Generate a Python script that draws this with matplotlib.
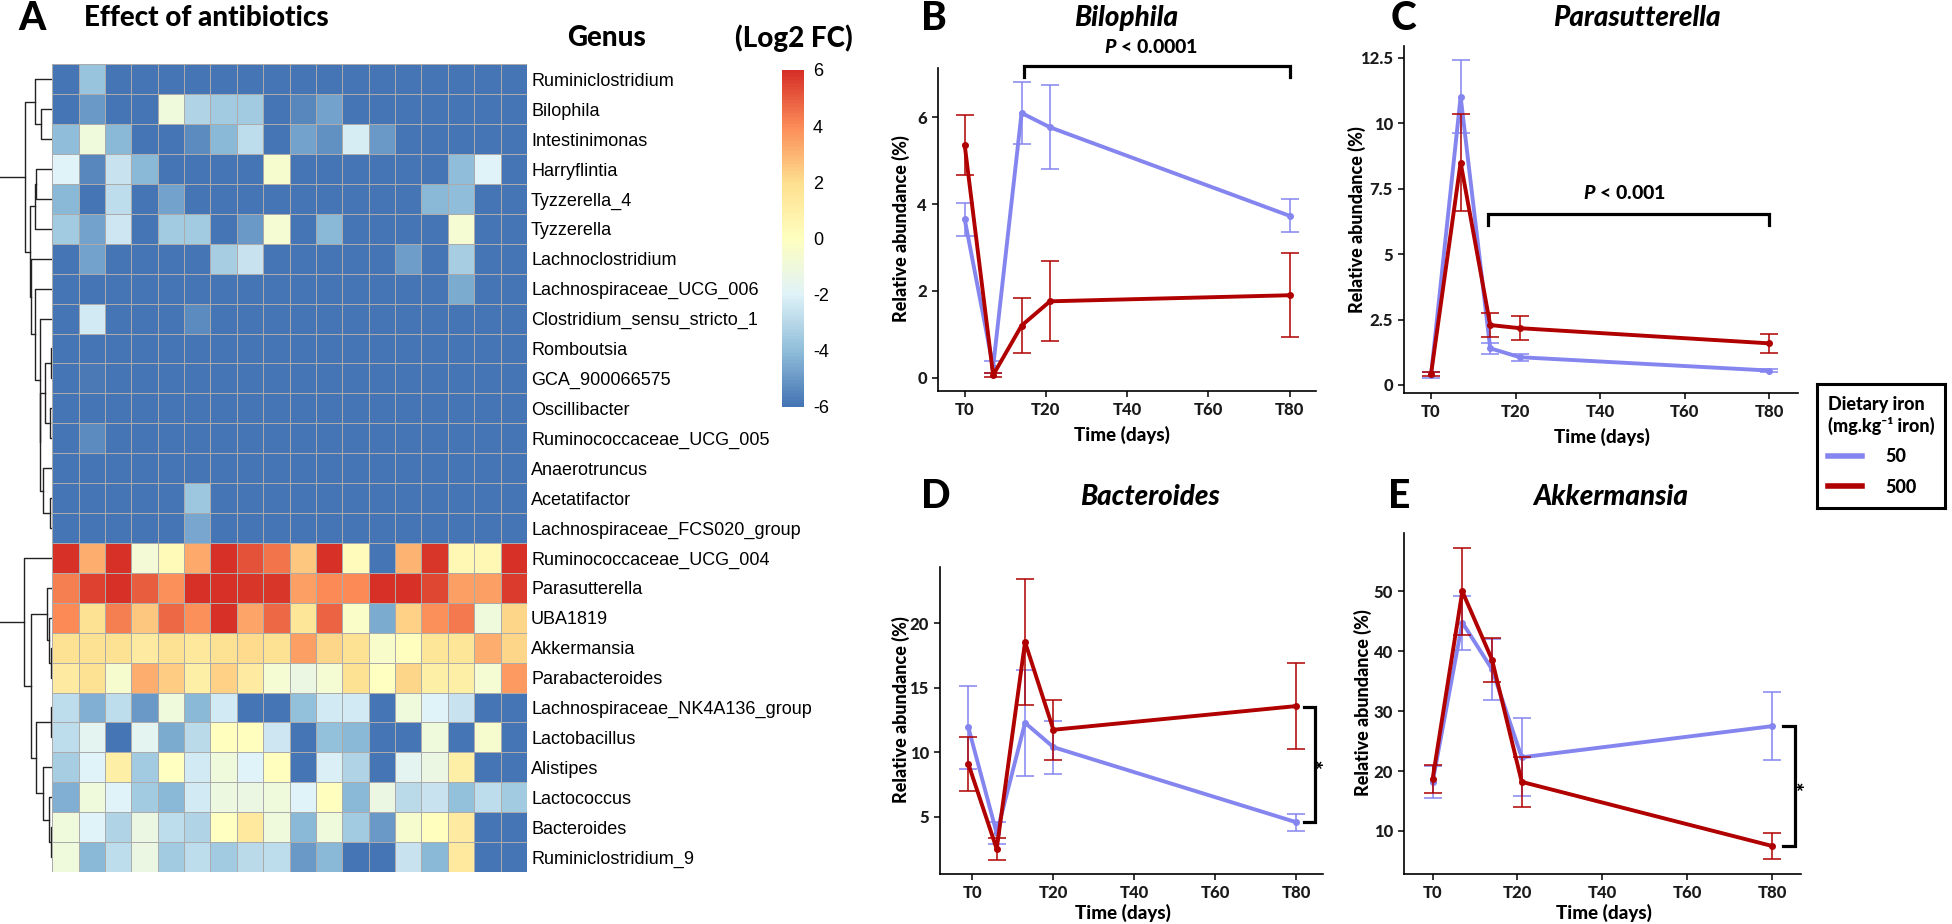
import matplotlib
matplotlib.use("Agg")
import matplotlib.pyplot as plt
import numpy as np
from matplotlib.colors import LinearSegmentedColormap
from matplotlib.lines import Line2D

plt.rcParams["font.family"] = ["Lato", "DejaVu Sans"]
plt.rcParams["font.weight"] = "bold"
plt.rcParams["mathtext.fontset"] = "custom"
plt.rcParams["mathtext.it"] = "Lato:italic:black"
plt.rcParams["mathtext.rm"] = "Lato:black"

# ── heatmap data (log2 fold change) ──────────────────────────────────────
GENERA = [
    "Ruminiclostridium", "Bilophila", "Intestinimonas", "Harryflintia",
    "Tyzzerella_4", "Tyzzerella", "Lachnoclostridium", "Lachnospiraceae_UCG_006",
    "Clostridium_sensu_stricto_1", "Romboutsia", "GCA_900066575", "Oscillibacter",
    "Ruminococcaceae_UCG_005", "Anaerotruncus", "Acetatifactor",
    "Lachnospiraceae_FCS020_group", "Ruminococcaceae_UCG_004", "Parasutterella",
    "UBA1819", "Akkermansia", "Parabacteroides", "Lachnospiraceae_NK4A136_group",
    "Lactobacillus", "Alistipes", "Lactococcus", "Bacteroides", "Ruminiclostridium_9",
]
HEAT = [
    [-6, -3.8, -6, -6, -6, -6, -6, -6, -6, -6, -6, -6, -6, -6, -6, -6, -6, -6],
    [-6, -5, -6, -6, -1, -3.2, -3.5, -3.6, -6, -5.5, -4.8, -6, -6, -6, -6, -6, -6, -6],
    [-4, -1, -4.2, -6, -6, -5.3, -4.2, -2.8, -6, -4.8, -5.2, -2.2, -5, -6, -6, -6, -6, -6],
    [-2, -5.5, -2.6, -4.1, -6, -6, -6, -6, -0.5, -6, -6, -6, -6, -6, -6, -4, -2, -6],
    [-4.2, -6, -2.8, -6, -4.8, -6, -6, -6, -6, -6, -6, -6, -6, -6, -4.2, -4, -6, -6],
    [-3.5, -4.8, -2.5, -6, -3.5, -3.5, -6, -5, -0.7, -6, -4.1, -6, -6, -6, -6, -0.7, -6, -6],
    [-6, -4.8, -6, -6, -6, -6, -3.4, -2.6, -6, -6, -6, -6, -6, -4.9, -6, -3.4, -6, -6],
    [-6, -6, -6, -6, -6, -6, -6, -6, -6, -6, -6, -6, -6, -6, -6, -4.5, -6, -6],
    [-6, -2.4, -6, -6, -6, -5.3, -6, -6, -6, -6, -6, -6, -6, -6, -6, -6, -6, -6],
    [-6, -6, -6, -6, -6, -6, -6, -6, -6, -6, -6, -6, -6, -6, -6, -6, -6, -6],
    [-6, -5.8, -6, -6, -6, -6, -6, -6, -6, -6, -6, -6, -6, -6, -6, -6, -6, -6],
    [-6, -6, -6, -6, -6, -6, -6, -6, -6, -6, -6, -6, -6, -6, -6, -6, -6, -6],
    [-6, -5.3, -6, -6, -6, -6, -6, -6, -6, -6, -6, -6, -6, -6, -6, -6, -6, -6],
    [-6, -6, -6, -6, -6, -6, -6, -6, -6, -6, -6, -6, -6, -6, -6, -6, -6, -6],
    [-6, -6, -6, -6, -6, -3.7, -6, -6, -6, -6, -6, -6, -6, -6, -6, -6, -6, -6],
    [-6, -6, -6, -6, -6, -4.6, -6, -6, -6, -6, -6, -6, -6, -6, -6, -6, -6, -6],
    [6, 3.2, 6, -0.8, 0.3, 3.3, 6, 5.2, 4.5, 2.6, 6, 0.2, -6, 3.1, 5.8, 0.4, 0.4, 6],
    [4.2, 5.6, 6, 5, 3.9, 6, 6, 5.8, 5.8, 3.5, 4, 4, 6, 6, 5.4, 3.5, 3.5, 5.7],
    [4, 1.8, 4.3, 2.6, 4.7, 3.9, 6, 3.4, 4.7, 1.6, 4.8, -0.3, -4.5, 2.3, 3.9, 4.4, -1, 2.2],
    [1.8, 1.8, 1.8, 1.2, 1.8, 1.5, 1.8, 2.1, 1.8, 3.5, 2.2, 1.8, -0.4, 0, 1.6, 1.6, 3.2, 2.2],
    [1.2, 1.8, -0.5, 3.2, 2.5, 1, 2.3, 1.2, -0.7, -1.3, -0.7, 1.8, -0.1, 2.2, 1, 1, -0.7, 3.7],
    [-2.8, -4.4, -2.8, -5, -1, -4.1, -2.3, -6, -6, -3.9, -2.3, -2.3, -6, -1, -2, -2.6, -6, -6],
    [-2.8, -1.8, -6, -1.8, -4.5, -3, 0, 0, -2.5, -6, -3.9, -4.1, -6, -6, -1, -6, -0.5, -6],
    [-3.4, -2, 1, -3.5, -0.1, -2.3, -1, -2, 0, -6, -2.1, -3.2, -6, -1.7, -1.3, 1, -6, -6],
    [-4.4, -1, -2, -3.6, -4.1, -2.3, -1.2, -1.3, -1, -2, 0, -4.1, -1.3, -3, -2.6, -3.9, -2.8, -3.5],
    [-1, -2, -3.2, -1.3, -2.8, -3.2, -0.1, 1.4, -1, -4.1, -1, -3.5, -5, -0.5, 0, 1.2, -6, -6],
    [-1, -4.1, -2.8, -1.3, -3.5, -2.8, -3.5, -3, -2.8, -5, -4.1, -6, -6, -2.6, -4.1, 1.4, -6, -6],
]
# row clustering: (left, right, height), leaves are row indices
TREE_TOP = ((0, (1, 2, 11), 17),
            (((3, 4, 16.3), 5, 17.3),
             (6, (7, (8, (((9, 10, 1.7), (11, 12, 2.3), 7.3),
                          (13, (14, 15, 2.3), 9), 11.7), 12.3), 17), 20.7), 22.3),
            27.3)
TREE_BOTTOM = (16, ((17, (18, (19, 20, 1), 3), 5.7),
                    ((21, 22, 1.7), (23, (24, (25, 26, 1), 3), 9), 15.7), 20.7), 28.3)
TREE = (TREE_TOP, TREE_BOTTOM, 70)
CBAR_TICKS = [6, 4, 2, 0, -2, -4, -6]

# ── time course data (mean, error) ───────────────────────────────────────
DAYS = [0, 7, 14, 21, 80]
DAYS_D = [-1, 6, 13, 20, 80]
XTICKS = [0, 20, 40, 60, 80]
XTICKLABELS = ["T0", "T20", "T40", "T60", "T80"]

BILO_50, BILO_50_ERR = [3.65, 0.25, 6.1, 5.77, 3.73], [0.38, 0.14, 0.72, 0.97, 0.38]
BILO_500, BILO_500_ERR = [5.36, 0.06, 1.2, 1.76, 1.9], [0.70, 0.04, 0.63, 0.92, 0.97]
PARA_50, PARA_50_ERR = [0.38, 11.02, 1.4, 1.06, 0.55], [0.1, 1.4, 0.2, 0.14, 0.06]
PARA_500, PARA_500_ERR = [0.42, 8.5, 2.29, 2.17, 1.59], [0.08, 1.84, 0.45, 0.46, 0.36]
BACT_50, BACT_50_ERR = [11.92, 3.7, 12.28, 10.39, 4.56], [3.22, 0.85, 4.1, 2.05, 0.68]
BACT_500, BACT_500_ERR = [9.09, 2.49, 18.55, 11.74, 13.58], [2.1, 0.87, 4.9, 2.33, 3.33]
AKK_50, AKK_50_ERR = [18.2, 44.8, 37.0, 22.3, 27.5], [2.7, 4.5, 5.1, 6.5, 5.7]
AKK_500, AKK_500_ERR = [18.7, 50.0, 38.6, 18.2, 7.5], [2.4, 7.3, 3.7, 4.2, 2.1]

BLUE = "#8585F0"
RED = "#B00000"
HEAVY = "black"
W, H = 1952, 924


def rect(l, t, r, b):
    return [l / W, 1 - b / H, (r - l) / W, (b - t) / H]


def ftext(x, y, s, **kw):
    fig.text(x / W, 1 - y / H, s, **kw)


fig = plt.figure(figsize=(W / 100, H / 100), dpi=100)

# ══════════════════════════════════════════════════════════════════════════
# A: heatmap
# ══════════════════════════════════════════════════════════════════════════
cmap = LinearSegmentedColormap.from_list(
    "rdylbu", ["#4575B4", "#91BFDB", "#E0F3F8", "#FFFFBF", "#FEE090", "#FC8D59", "#D73027"], N=100)

hax = fig.add_axes(rect(52.3, 64.3, 526.9, 872))
hax.pcolormesh(np.array(HEAT), cmap=cmap, vmin=-6, vmax=6,
               edgecolors="#ababab", linewidth=0.5)
hax.set_xlim(0, len(HEAT[0]))
hax.set_ylim(len(GENERA), 0)
hax.set_xticks([])
hax.yaxis.tick_right()
hax.set_yticks(np.arange(len(GENERA)) + 0.5)
hax.set_yticklabels(GENERA, fontsize=13, family="Liberation Sans", fontweight="normal")
hax.tick_params(axis="y", length=0, pad=3)
for s in hax.spines.values():
    s.set_visible(False)

# dendrogram
dax = fig.add_axes(rect(0, 64.3, 52.3, 872))


def draw_node(node):
    if isinstance(node, int):
        return node + 0.5, 0.0
    a, b, h = node
    ya, ha = draw_node(a)
    yb, hb = draw_node(b)
    dax.plot([ha, h, h, hb], [ya, ya, yb, yb], color="#222222", lw=1.0)
    return (ya + yb) / 2, h


draw_node(TREE)
dax.set_ylim(len(GENERA), 0)
dax.set_xlim(51.7, 0)
dax.axis("off")

# colour key
cax = fig.add_axes(rect(781.7, 70, 803.3, 406.7))
cax.imshow(np.linspace(-6, 6, 200)[:, None], aspect="auto", cmap=cmap,
           vmin=-6, vmax=6, origin="lower", extent=[0, 1, -6, 6])
cax.yaxis.tick_right()
cax.set_yticks(CBAR_TICKS)
cax.set_yticklabels([str(t) for t in CBAR_TICKS], fontsize=13,
                    family="Liberation Sans", fontweight="normal")
cax.set_xticks([])
cax.tick_params(axis="y", length=0, pad=7)
for s in cax.spines.values():
    s.set_visible(False)

ftext(31.8, 18.3, "A", fontsize=28, fontweight=HEAVY, ha="center", va="center")
ftext(84.4, 18.3, "Effect of antibiotics", fontsize=20, fontweight=HEAVY, ha="left", va="center")
ftext(607, 38, "Genus", fontsize=20, fontweight=HEAVY, ha="center", va="center")
ftext(794, 38, "(Log2 FC)", fontsize=20, fontweight=HEAVY, ha="center", va="center")


# ══════════════════════════════════════════════════════════════════════════
# B–E: time courses
# ══════════════════════════════════════════════════════════════════════════
def panel(box, days, m50, e50, m500, e500, xlim, ylim, yticks, yticklabels):
    ax = fig.add_axes(rect(*box))
    ax.errorbar(days, m50, yerr=e50, fmt="none", ecolor=BLUE, elinewidth=1.1,
                capsize=6.5, capthick=1.1, zorder=2)
    ax.plot(days, m50, "-o", color=BLUE, lw=2.8, ms=4, zorder=3)
    ax.errorbar(days, m500, yerr=e500, fmt="none", ecolor=RED, elinewidth=1.1,
                capsize=6.5, capthick=1.1, zorder=4)
    ax.plot(days, m500, "-o", color=RED, lw=2.8, ms=4, zorder=5)
    ax.set_xlim(*xlim)
    ax.set_ylim(*ylim)
    ax.set_xticks(XTICKS)
    ax.set_xticklabels(XTICKLABELS)
    ax.set_yticks(yticks)
    ax.set_yticklabels(yticklabels)
    for lab in ax.get_xticklabels() + ax.get_yticklabels():
        lab.set_fontweight(HEAVY)
        lab.set_fontsize(12)
        lab.set_color("#1a1a1a")
    ax.tick_params(length=4, width=1.1, pad=4)
    ax.spines["top"].set_visible(False)
    ax.spines["right"].set_visible(False)
    for s in ("left", "bottom"):
        ax.spines[s].set_linewidth(1.2)
    ax.patch.set_alpha(0)
    return ax


def hbracket(ax, x0, x1, y, ytick, label, tx, ty):
    ax.plot([x0, x0, x1, x1], [ytick, y, y, ytick], color="black", lw=2.3,
            clip_on=False, solid_joinstyle="miter")
    ax.text(tx, ty, label, fontsize=14, fontweight=HEAVY, ha="center", va="center")


def vbracket(ax, x, xtick, y0, y1, tx, ty):
    ax.plot([xtick, x, x, xtick], [y0, y0, y1, y1], color="black", lw=2.3,
            clip_on=False, solid_joinstyle="miter")
    ax.text(tx, ty, "*", fontsize=16, fontweight=HEAVY, ha="center", va="center",
            rotation=90)


axB = panel((937.9, 68.3, 1316.4, 390.7), DAYS, BILO_50, BILO_50_ERR, BILO_500, BILO_500_ERR,
            (-6.6, 86.6), (-0.3, 7.13), [0, 2, 4, 6], ["0", "2", "4", "6"])
hbracket(axB, 14.5, 80, 7.18, 6.92, r"$\mathit{P}$ < 0.0001", 46, 7.61)

axC = panel((1404, 45.7, 1798.3, 393.3), DAYS, PARA_50, PARA_50_ERR, PARA_500, PARA_500_ERR,
            (-6.4, 86.9), (-0.32, 12.97), [0, 2.5, 5, 7.5, 10, 12.5],
            ["0", "2.5", "5", "7.5", "10", "12.5"])
hbracket(axC, 13.4, 80, 6.52, 6.1, r"$\mathit{P}$ < 0.001", 45.7, 7.35)

axD = panel((940, 566.7, 1322.7, 874.3), DAYS_D, BACT_50, BACT_50_ERR, BACT_500, BACT_500_ERR,
            (-8.0, 86.5), (0.52, 24.4), [5, 10, 15, 20], ["5", "10", "15", "20"])
vbracket(axD, 84.7, 81.9, 13.47, 4.61, 87.1, 9.15)

axE = panel((1404.2, 533.3, 1801.3, 874.3), DAYS, AKK_50, AKK_50_ERR, AKK_500, AKK_500_ERR,
            (-6.7, 86.9), (2.77, 59.7), [10, 20, 30, 40, 50],
            ["10", "20", "30", "40", "50"])
vbracket(axE, 85.5, 82.7, 27.6, 7.5, 88, 17.7)

# panel letters, titles and axis labels
for letter, x, y in [("B", 933.6, 18), ("C", 1403, 18), ("D", 936, 497), ("E", 1399, 497)]:
    ftext(x, y, letter, fontsize=28, fontweight=HEAVY, ha="center", va="center")
for title, x, y in [("Bilophila", 1126, 18), ("Parasutterella", 1637, 18),
                    ("Bacteroides", 1150, 497), ("Akkermansia", 1611, 497)]:
    ftext(x, y, title, fontsize=20, fontweight=HEAVY, style="italic", ha="center", va="center")
for x, y in [(900.7, 229), (1356.8, 220), (900.7, 710), (1363, 703)]:
    ftext(x, y, "Relative abundance (%)", fontsize=13, fontweight=HEAVY,
          rotation=90, ha="center", va="center")
for x, y in [(1122, 435), (1601.7, 436.7), (1123.3, 913.3), (1604, 913.3)]:
    ftext(x, y, "Time (days)", fontsize=13.5, fontweight=HEAVY, ha="center", va="center")

# legend box
lax = fig.add_axes(rect(1817, 384, 1945, 508))
lax.set_xticks([])
lax.set_yticks([])
for s in lax.spines.values():
    s.set_linewidth(2.2)
handles = [Line2D([], [], color=BLUE, lw=4), Line2D([], [], color=RED, lw=4)]
leg = lax.legend(handles, ["50", "500"], title="Dietary iron\n(mg.kg\u207b\u00b9 iron)",
                 loc="center", frameon=False, fontsize=13, title_fontsize=13,
                 handlelength=1.9, handletextpad=1.3, labelspacing=0.75,
                 alignment="left", borderpad=0.2)
leg.get_title().set_fontweight(HEAVY)
leg.get_title().set_fontfamily(["Lato", "DejaVu Sans"])
for t in leg.get_texts():
    t.set_fontweight(HEAVY)

fig.savefig("out.png", dpi=100)
